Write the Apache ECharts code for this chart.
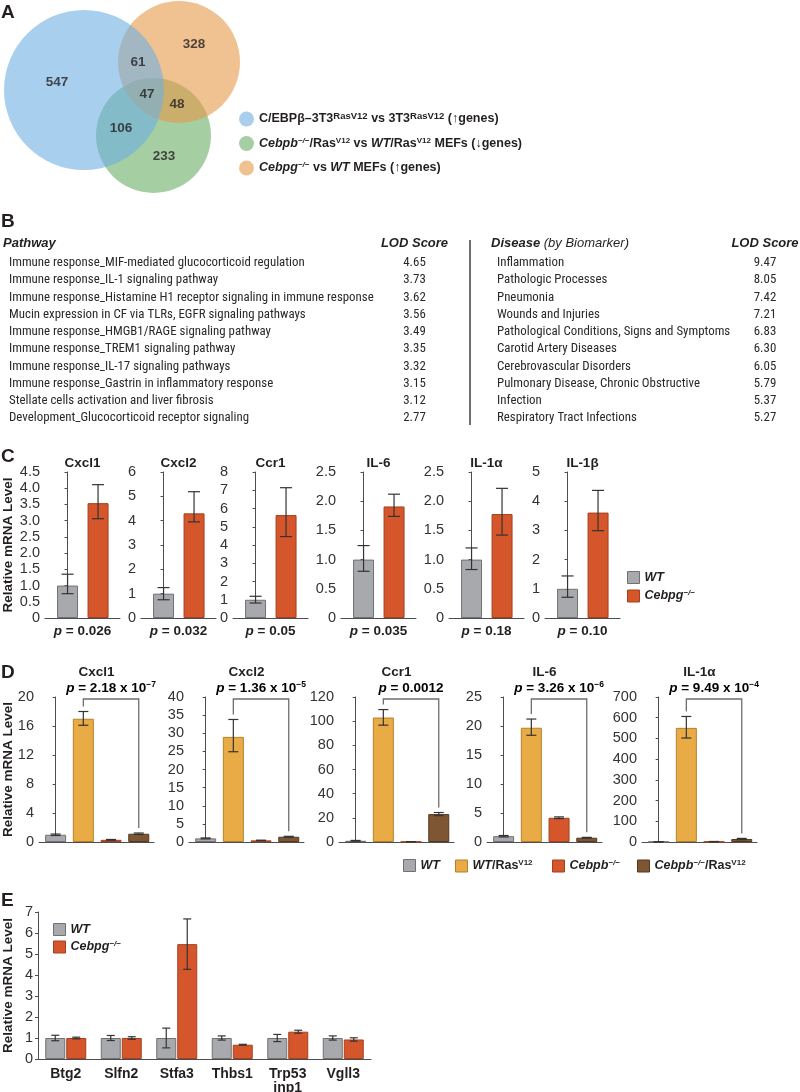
<!DOCTYPE html>
<html><head><meta charset="utf-8"><title>Figure</title>
<script src="https://cdn.jsdelivr.net/npm/echarts@6.0.0/dist/echarts.min.js"></script>
<style>html,body{margin:0;padding:0;background:#fff;}#chart{width:800px;height:1092px;}</style>
</head><body><div id="chart"></div>
<script>
// ================= DATA =================
// Panel A – Venn diagram
const vennSets = ['C/EBPβ–3T3RasV12 vs 3T3RasV12 (↑genes)', 'Cebpb−/−/RasV12 vs WT/RasV12 MEFs (↓genes)', 'Cebpg−/− vs WT MEFs (↑genes)'];
const vennRegions = ['set1 only', 'set3 only', 'set1∩set3', 'all', 'set2∩set3', 'set1∩set2', 'set2 only'];
const vennCounts = [547, 328, 61, 47, 48, 106, 233];

// Panel B – enrichment tables
const pathways = [
  'Immune response_MIF-mediated glucocorticoid regulation',
  'Immune response_IL-1 signaling pathway',
  'Immune response_Histamine H1 receptor signaling in immune response',
  'Mucin expression in CF via TLRs, EGFR signaling pathways',
  'Immune response_HMGB1/RAGE signaling pathway',
  'Immune response_TREM1 signaling pathway',
  'Immune response_IL-17 signaling pathways',
  'Immune response_Gastrin in inflammatory response',
  'Stellate cells activation and liver fibrosis',
  'Development_Glucocorticoid receptor signaling'];
const pathwayLOD = [4.65, 3.73, 3.62, 3.56, 3.49, 3.35, 3.32, 3.15, 3.12, 2.77];
const diseases = [
  'Inflammation', 'Pathologic Processes', 'Pneumonia', 'Wounds and Injuries',
  'Pathological Conditions, Signs and Symptoms', 'Carotid Artery Diseases',
  'Cerebrovascular Disorders', 'Pulmonary Disease, Chronic Obstructive',
  'Infection', 'Respiratory Tract Infections'];
const diseaseLOD = [9.47, 8.05, 7.42, 7.21, 6.83, 6.30, 6.05, 5.79, 5.37, 5.27];

// Panel C – WT vs Cebpg-/-
const cGenes = ['Cxcl1', 'Cxcl2', 'Ccr1', 'IL-6', 'IL-1α', 'IL-1β'];
const cGroups = ['WT', 'Cebpg−/−'];
const cWT   = [1.0, 1.0, 1.0, 1.0, 1.0, 1.0];
const cWTLo = [0.75, 0.75, 0.82, 0.80, 0.83, 0.71];
const cWTHi = [1.35, 1.25, 1.19, 1.24, 1.20, 1.44];
const cKO   = [3.54, 4.30, 5.64, 1.91, 1.78, 3.61];
const cKOLo = [3.06, 3.95, 4.46, 1.74, 1.42, 2.99];
const cKOHi = [4.11, 5.19, 7.14, 2.12, 2.22, 4.37];
const cP    = ['0.026', '0.032', '0.05', '0.035', '0.18', '0.10'];
const cYMax = [4.5, 6, 8, 2.5, 2.5, 5];
const cYStep = [0.5, 1, 1, 0.5, 0.5, 1];
const cYDec = [1, 0, 0, 1, 1, 0];

// Panel D – WT, WT/RasV12, Cebpb-/-, Cebpb-/-/RasV12
const dGenes = ['Cxcl1', 'Cxcl2', 'Ccr1', 'IL-6', 'IL-1α'];
const dGroups = ['WT', 'WT/RasV12', 'Cebpb−/−', 'Cebpb−/−/RasV12'];
const dWT      = [1.0, 1.0, 1.0, 1.0, 1.0];
const dWTErr   = [0.1, 0.12, 0.3, 0.12, 1.0];
const dRas     = [17.0, 29.0, 103.0, 19.7, 551];
const dRasLo   = [16.1, 24.9, 96.7, 18.4, 502];
const dRasHi   = [18.0, 33.8, 109.6, 21.2, 606];
const dKO      = [0.3, 0.45, 0.3, 4.18, 2];
const dKOErr   = [0.05, 0.05, 0.05, 0.15, 0.5];
const dKORas   = [1.14, 1.45, 23.1, 0.74, 14.4];
const dKORasErr = [0.1, 0.12, 1.3, 0.06, 3.0];
const dPBase = ['2.18 x 10', '1.36 x 10', '0.0012', '3.26 x 10', '9.49 x 10'];
const dPExp  = ['−7', '−5', '', '−6', '−4'];
const dYMax  = [20, 40, 120, 25, 700];
const dYStep = [4, 5, 20, 5, 100];

// Panel E – WT vs Cebpg-/-
const eGenes = ['Btg2', 'Slfn2', 'Stfa3', 'Thbs1', 'Trp53\ninp1', 'Vgll3'];
const eWT    = [1.0, 1.0, 1.0, 1.0, 1.0, 1.0];
const eWTErr = [0.13, 0.12, 0.47, 0.10, 0.17, 0.10];
const eKO    = [1.0, 1.0, 5.47, 0.68, 1.30, 0.93];
const eKOErr = [0.04, 0.06, 1.2, 0.02, 0.07, 0.08];
const eYMax = 7, eYStep = 1;

// ================= LAYOUT / STYLE =================
const FONT = "'Liberation Sans', Arial, Helvetica, sans-serif";
const NARROW = "'Liberation Sans Narrow', 'Arial Narrow', 'Roboto Condensed', 'Liberation Sans', sans-serif";
const TXT = '#231f20';
const GRAY = '#a7a9ac', GRAY_B = '#707174';
const RED = '#d5562b', RED_B = '#a4401f';
const YEL = '#e8ab45', YEL_B = '#b5802a';
const BRN = '#7e5634', BRN_B = '#55391f';
const ERR = '#333333';
const AXIS = '#4d4d4d';
// venn circle layout in pixels [cx, cy, r] for the three sets
const vennCircles = [[84, 90, 80], [153.5, 135.5, 57.5], [179, 62, 61]];
const vennColors = ['rgba(110,175,225,0.6)', 'rgba(107,173,102,0.6)', 'rgba(230,153,72,0.6)'];
const vennLabelPos = [[57, 82], [194, 44], [138, 62], [147, 94], [177, 104], [121, 128], [164, 156]];

const rich = {
  b:  {fontFamily: FONT, fontWeight: 'bold', fontSize: 12.5, color: TXT},
  bi: {fontFamily: FONT, fontWeight: 'bold', fontStyle: 'italic', fontSize: 12.5, color: TXT},
  s:  {fontFamily: FONT, fontWeight: 'bold', fontSize: 8, color: TXT, padding: [0, 0, 6, 0]},
  vs: {fontFamily: FONT, fontWeight: 'bold', fontSize: 9.5, color: TXT, padding: [0, 0, 5, 0]},
  si: {fontFamily: FONT, fontWeight: 'bold', fontStyle: 'italic', fontSize: 8, color: TXT, padding: [0, 0, 6, 0]},
  i:  {fontFamily: FONT, fontStyle: 'italic', fontSize: 13, color: TXT}
};
const pRich = {
  pi: {fontFamily: FONT, fontWeight: 'bold', fontStyle: 'italic', fontSize: 13.5, color: TXT},
  pb: {fontFamily: FONT, fontWeight: 'bold', fontSize: 13.5, color: TXT},
  ps: {fontFamily: FONT, fontWeight: 'bold', fontSize: 8.5, color: TXT, padding: [0, 0, 7, 0]}
};
const nameMarkup = {
  'WT': '{bi|WT}',
  'Cebpg−/−': '{bi|Cebpg}{si|−/−}',
  'WT/RasV12': '{bi|WT}{b|/Ras}{s|V12}',
  'Cebpb−/−': '{bi|Cebpb}{si|−/−}',
  'Cebpb−/−/RasV12': '{bi|Cebpb}{si|−/−}{b|/Ras}{s|V12}',
  [vennSets[0]]: '{b|C/EBPβ–3T3}{vs|RasV12}{b| vs 3T3}{vs|RasV12}{b| (↑genes)}',
  [vennSets[1]]: '{bi|Cebpb}{si|−/−}{b|/Ras}{s|V12}{b| vs }{bi|WT}{b|/Ras}{s|V12}{b| MEFs (↓genes)}',
  [vennSets[2]]: '{bi|Cebpg}{si|−/−}{b| vs }{bi|WT}{b| MEFs (↑genes)}'
};
const groupStyle = {
  'WT': [GRAY, GRAY_B], 'Cebpg−/−': [RED, RED_B], 'WT/RasV12': [YEL, YEL_B],
  'Cebpb−/−': [RED, RED_B], 'Cebpb−/−/RasV12': [BRN, BRN_B]
};

const grids = [], xAxes = [], yAxes = [], series = [], graphics = [], legends = [];
function addGrid(g) { grids.push(Object.assign({outerBoundsMode: 'none', containLabel: false}, g)); return grids.length - 1; }
function gtext(x, y, text, style, extra) {
  graphics.push(Object.assign({type: 'text', x: x, y: y, silent: true, z: 10,
    style: Object.assign({text: text, fill: TXT, align: 'left', verticalAlign: 'middle', fontFamily: FONT}, style)}, extra || {}));
}
function legendBase(extra) {
  return Object.assign({padding: 0, icon: 'rect', itemWidth: 12, itemHeight: 12, selectedMode: false,
    itemStyle: {borderWidth: 1},
    formatter: n => nameMarkup[n] || n,
    textStyle: {fontFamily: FONT, fontWeight: 'bold', fontSize: 12.5, color: TXT, rich: rich}}, extra);
}
function yAxisOf(gi, max, step, dec) {
  return {gridIndex: gi, type: 'value', min: 0, max: max, interval: step,
    axisLine: {show: true, lineStyle: {color: AXIS, width: 1}},
    axisTick: {show: true, length: 3, inside: false, lineStyle: {color: AXIS, width: 1}},
    axisLabel: {show: true, fontFamily: FONT, fontSize: 14.5, color: '#333', margin: 5,
      formatter: v => (v === 0 ? '0' : v.toFixed(dec))},
    splitLine: {show: false}};
}
function makeErr(capW, offsets) {
  return function (params, api) {
    const x = api.value(0), lo = api.value(1), hi = api.value(2), g = api.value(3) || 0;
    const ph = api.coord([x, hi]), pl = api.coord([x, lo]);
    const cx = ph[0] + (offsets ? offsets[g] : 0), h = capW / 2;
    const st = {stroke: ERR, lineWidth: 1.2};
    return {type: 'group', children: [
      {type: 'line', shape: {x1: cx, y1: ph[1], x2: cx, y2: pl[1]}, style: st},
      {type: 'line', shape: {x1: cx - h, y1: ph[1], x2: cx + h, y2: ph[1]}, style: st},
      {type: 'line', shape: {x1: cx - h, y1: pl[1], x2: cx + h, y2: pl[1]}, style: st}]};
  };
}

// ================= PANEL A =================
gtext(1, 13, 'A', {fontSize: 19, fontWeight: 'bold'});
const gv = addGrid({left: 0, top: 0, width: 800, height: 210});
xAxes.push({gridIndex: gv, type: 'value', min: 0, max: 800, show: false});
yAxes.push({gridIndex: gv, type: 'value', min: 0, max: 210, inverse: true, show: false});
[1, 2, 0].forEach(k => {
  series.push({type: 'scatter', name: vennSets[k], xAxisIndex: gv, yAxisIndex: gv, silent: true, z: 1,
    emphasis: {disabled: true}, symbol: 'circle', symbolSize: 2 * vennCircles[k][2],
    itemStyle: {color: vennColors[k], opacity: 1, borderWidth: 0},
    data: [[vennCircles[k][0], vennCircles[k][1]]]});
});
series.push({type: 'scatter', name: 'counts', xAxisIndex: gv, yAxisIndex: gv, silent: true, z: 3,
  symbolSize: 1, itemStyle: {color: 'transparent'},
  label: {show: true, position: 'inside', formatter: p => p.value[2], fontFamily: FONT,
    fontWeight: 'bold', fontSize: 13.5, color: TXT},
  data: vennCounts.map((c, i) => [vennLabelPos[i][0], vennLabelPos[i][1], c])});
legends.push(legendBase({data: vennSets.slice(), orient: 'vertical', left: 239, top: 111.5,
  icon: 'circle', itemWidth: 15, itemHeight: 15, itemGap: 9.5, itemStyle: {borderWidth: 0}}));

// ================= PANEL B =================
(function () {
  const cv = document.createElement('canvas').getContext('2d');
  cv.font = '100px ' + NARROW;
  const w = cv.measureText(pathways[2]).width;
  const size = Math.min(14, 100 * 365 / w);
  gtext(1, 222, 'B', {fontSize: 19, fontWeight: 'bold'});
  gtext(3, 243, 'Pathway', {fontSize: 13, fontWeight: 'bold', fontStyle: 'italic'});
  gtext(414.5, 243, 'LOD Score', {fontSize: 13, fontWeight: 'bold', fontStyle: 'italic', align: 'center'});
  gtext(491, 243, '{bi|Disease}{i| (by Biomarker)}', {rich: {
    bi: {fontFamily: FONT, fontWeight: 'bold', fontStyle: 'italic', fontSize: 13, fill: TXT},
    i: {fontFamily: FONT, fontStyle: 'italic', fontSize: 13, fill: TXT}}});
  gtext(765, 243, 'LOD Score', {fontSize: 13, fontWeight: 'bold', fontStyle: 'italic', align: 'center'});
  const rowY = i => 263 + i * 17.25;
  const st = {fontFamily: NARROW, fontSize: size, fill: '#2b2829'};
  pathways.forEach((t, i) => gtext(9, rowY(i), t, st));
  pathwayLOD.forEach((v, i) => gtext(414.5, rowY(i), v.toFixed(2), Object.assign({align: 'center'}, st)));
  diseases.forEach((t, i) => gtext(497, rowY(i), t, st));
  diseaseLOD.forEach((v, i) => gtext(765, rowY(i), v.toFixed(2), Object.assign({align: 'center'}, st)));
  graphics.push({type: 'line', silent: true, shape: {x1: 470, y1: 240, x2: 470, y2: 425},
    style: {stroke: TXT, lineWidth: 1.3}});
})();

// ================= PANEL C =================
const cLeft = [45, 141, 233, 341, 449, 545];
const C_TOP = 472, C_H = 146, C_W = 75;
gtext(1, 457, 'C', {fontSize: 19, fontWeight: 'bold'});
gtext(8, C_TOP + C_H / 2, 'Relative mRNA Level', {fontSize: 13.5, fontWeight: 'bold', align: 'center'}, {rotation: Math.PI / 2});
cGenes.forEach((g, i) => {
  const gi = addGrid({left: cLeft[i], top: C_TOP, width: C_W, height: C_H});
  xAxes.push({gridIndex: gi, type: 'value', min: -0.74, max: 1.72, axisLine: {show: true, onZero: false, lineStyle: {color: AXIS, width: 1}},
    axisTick: {show: false}, axisLabel: {show: false}, splitLine: {show: false}});
  yAxes.push(yAxisOf(gi, cYMax[i], cYStep[i], cYDec[i]));
  const vals = [cWT[i], cKO[i]];
  cGroups.forEach((name, k) => {
    series.push({type: 'bar', name: name, xAxisIndex: gi, yAxisIndex: gi, barWidth: 21, barGap: '-100%', silent: true,
      itemStyle: {color: groupStyle[name][0], borderColor: groupStyle[name][1], borderWidth: 1},
      data: [[k, vals[k]]]});
  });
  series.push({type: 'custom', name: 'err', xAxisIndex: gi, yAxisIndex: gi, z: 5, silent: true, clip: false,
    renderItem: makeErr(12), data: [[0, cWTLo[i], cWTHi[i], 0], [1, cKOLo[i], cKOHi[i], 0]]});
  const cx = cLeft[i] + C_W / 2;
  gtext(cx, 463, g, {fontSize: 13.5, fontWeight: 'bold', align: 'center'});
  gtext(cx, 631, '{pi|p}{pb| = ' + cP[i] + '}', {align: 'center', rich: pRich});
});
legends.push(legendBase({data: cGroups.slice(), orient: 'vertical', left: 627, top: 571, itemGap: 5}));

// ================= PANEL D =================
const dLeft = [39, 189, 339, 487, 642];
const D_TOP = 697, D_H = 145, D_W = 115;
gtext(1, 673, 'D', {fontSize: 19, fontWeight: 'bold'});
gtext(8, D_TOP + D_H / 2, 'Relative mRNA Level', {fontSize: 13.5, fontWeight: 'bold', align: 'center'}, {rotation: Math.PI / 2});
dGenes.forEach((g, j) => {
  const gi = addGrid({left: dLeft[j], top: D_TOP, width: D_W, height: D_H});
  xAxes.push({gridIndex: gi, type: 'value', min: -0.6, max: 3.55, axisLine: {show: true, onZero: false, lineStyle: {color: AXIS, width: 1}},
    axisTick: {show: false}, axisLabel: {show: false}, splitLine: {show: false}});
  yAxes.push(yAxisOf(gi, dYMax[j], dYStep[j], 0));
  const vals = [dWT[j], dRas[j], dKO[j], dKORas[j]];
  dGroups.forEach((name, k) => {
    series.push({type: 'bar', name: name, xAxisIndex: gi, yAxisIndex: gi, barWidth: 21, barGap: '-100%', silent: true,
      itemStyle: {color: groupStyle[name][0], borderColor: groupStyle[name][1], borderWidth: 1},
      data: [[k, vals[k]]]});
  });
  series.push({type: 'custom', name: 'err', xAxisIndex: gi, yAxisIndex: gi, z: 5, silent: true, clip: false,
    renderItem: makeErr(10), data: [
      [0, dWT[j] - dWTErr[j], dWT[j] + dWTErr[j], 0],
      [1, dRasLo[j], dRasHi[j], 0],
      [2, Math.max(0, dKO[j] - dKOErr[j]), dKO[j] + dKOErr[j], 0],
      [3, dKORas[j] - dKORasErr[j], dKORas[j] + dKORasErr[j], 0]]});
  const ptxt = '{pi|p}{pb| = ' + dPBase[j] + '}' + (dPExp[j] ? '{ps|' + dPExp[j] + '}' : '');
  series.push({type: 'custom', name: 'bracket', xAxisIndex: gi, yAxisIndex: gi, z: 6, silent: true, clip: false,
    renderItem: function (params, api) {
      const a = api.coord([api.value(0), api.value(1)]);
      const b = api.coord([api.value(2), api.value(3)]);
      const t = api.coord([api.value(0), api.value(4)]);
      const yt = t[1] + 2;
      return {type: 'group', children: [
        {type: 'polyline', shape: {points: [[a[0], a[1] - 5], [a[0], yt], [b[0], yt], [b[0], b[1] - 5]]},
          style: {stroke: '#6d6e71', lineWidth: 1.3, fill: null}},
        {type: 'text', x: (a[0] + b[0]) / 2, y: yt - 11,
          style: {text: ptxt, align: 'center', verticalAlign: 'middle', rich: pRich, fontFamily: FONT}}]};
    },
    data: [[1, dRasHi[j], 3, dKORas[j] + dKORasErr[j], dYMax[j]]]});
  gtext(dLeft[j] + D_W / 2, 672, g, {fontSize: 13.5, fontWeight: 'bold', align: 'center'});
});
const dLegLeft = [403, 455, 552, 637];
dGroups.forEach((name, k) => legends.push(legendBase({data: [name], left: dLegLeft[k], top: 859})));

// ================= PANEL E =================
gtext(1, 901, 'E', {fontSize: 19, fontWeight: 'bold'});
gtext(8, 912 + 147 / 2, 'Relative mRNA Level', {fontSize: 13.5, fontWeight: 'bold', align: 'center'}, {rotation: Math.PI / 2});
(function () {
  const gi = addGrid({left: 38, top: 912, width: 333, height: 147});
  xAxes.push({gridIndex: gi, type: 'category', data: eGenes,
    axisLine: {show: true, lineStyle: {color: AXIS, width: 1}}, axisTick: {show: false},
    axisLabel: {show: true, interval: 0, fontFamily: FONT, fontWeight: 'bold', fontSize: 14, color: TXT, margin: 8, lineHeight: 14},
    splitLine: {show: false}});
  yAxes.push(yAxisOf(gi, eYMax, eYStep, 0));
  const eGroups = ['WT', 'Cebpg−/−'];
  [eWT, eKO].forEach((arr, k) => {
    series.push({type: 'bar', name: eGroups[k], xAxisIndex: gi, yAxisIndex: gi, barWidth: 20, barGap: '5%', silent: true,
      itemStyle: {color: groupStyle[eGroups[k]][0], borderColor: groupStyle[eGroups[k]][1], borderWidth: 1},
      data: arr.slice()});
  });
  const errData = [];
  eWT.forEach((v, i) => errData.push([i, v - eWTErr[i], v + eWTErr[i], 0]));
  eKO.forEach((v, i) => errData.push([i, v - eKOErr[i], v + eKOErr[i], 1]));
  series.push({type: 'custom', name: 'err', xAxisIndex: gi, yAxisIndex: gi, z: 5, silent: true, clip: false,
    renderItem: makeErr(8, [-10.5, 10.5]), data: errData});
  legends.push(legendBase({data: eGroups, orient: 'vertical', left: 53, top: 923, itemGap: 4}));
})();

const chart = echarts.init(document.getElementById('chart'), null, {renderer: 'canvas'});
chart.setOption({
  animation: false,
  backgroundColor: '#ffffff',
  textStyle: {fontFamily: FONT},
  tooltip: {show: false},
  grid: grids, xAxis: xAxes, yAxis: yAxes, series: series, legend: legends, graphic: graphics
});
</script></body></html>
